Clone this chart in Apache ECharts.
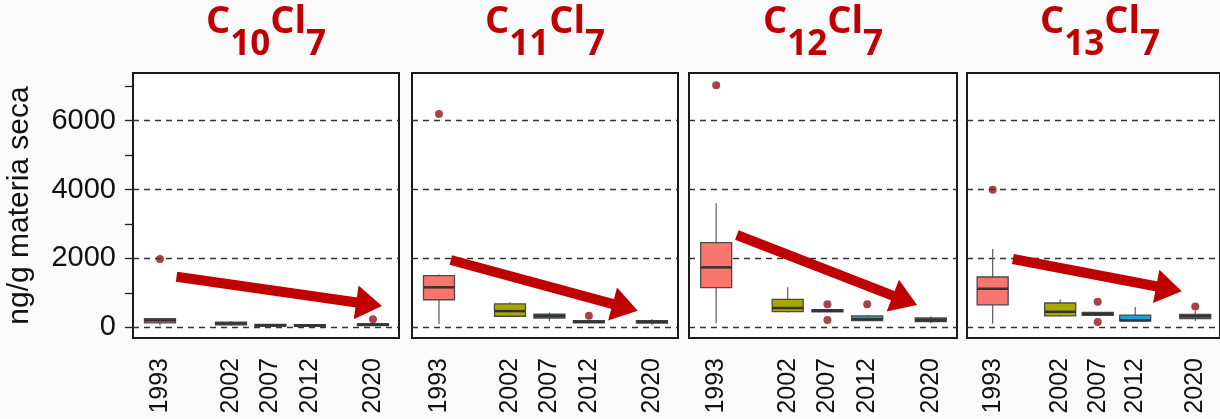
<!DOCTYPE html>
<html>
<head>
<meta charset="utf-8">
<script src="https://cdn.jsdelivr.net/npm/echarts@6/dist/echarts.min.js"></script>
<style>
  html, body { margin: 0; padding: 0; background: #fafafa; }
  #chart { width: 1220px; height: 419px; }
</style>
</head>
<body>
<div id="chart"></div>
<script>
// years sampled (x positions are real years)
const years = [1993, 2002, 2007, 2012, 2020]
const yLabelValues = [0, 2000, 4000, 6000]
const yTickValues = [0, 1000, 2000, 3000, 4000, 5000, 6000, 7000]
const chainLengths = ['10', '11', '12', '13']

// box stats per year: [min, Q1, median, Q3, max]
const c10Boxes = [
  [60, 130, 200, 250, 270],
  [40, 70, 110, 150, 180],
  [10, 30, 60, 85, 100],
  [10, 25, 50, 80, 95],
  [30, 50, 80, 100, 120]
]
const c11Boxes = [
  [90, 800, 1160, 1500, 1530],
  [290, 320, 470, 680, 730],
  [175, 270, 330, 385, 425],
  [110, 130, 160, 190, 200],
  [70, 125, 160, 190, 230]
]
const c12Boxes = [
  [120, 1150, 1740, 2460, 3600],
  [430, 455, 560, 810, 1160],
  [435, 450, 480, 510, 520],
  [190, 195, 235, 330, 360],
  [120, 165, 210, 270, 310]
]
const c13Boxes = [
  [100, 650, 1120, 1460, 2270],
  [310, 330, 450, 705, 810],
  [345, 350, 390, 430, 440],
  [175, 185, 200, 355, 590],
  [185, 250, 320, 375, 480]
]

// outliers: [year, value]
const c10Outliers = [[1993, 1980], [2020, 230]]
const c11Outliers = [[1993, 6190], [2012, 335]]
const c12Outliers = [[1993, 7030], [2007, 670], [2007, 210], [2012, 670]]
const c13Outliers = [[1993, 3990], [2007, 740], [2007, 155], [2020, 600]]

// trend arrows: [start, end] in data coords
const c10Arrow = [[1995.1, 1469], [2019.5, 670]]
const c11Arrow = [[1994.5, 1954], [2016.6, 578]]
const c12Arrow = [[1995.6, 2679], [2016.75, 781]]
const c13Arrow = [[1995.7, 1982], [2016.5, 1118]]

const allBoxes = [c10Boxes, c11Boxes, c12Boxes, c13Boxes]
const allOutliers = [c10Outliers, c11Outliers, c12Outliers, c13Outliers]
const allArrows = [c10Arrow, c11Arrow, c12Arrow, c13Arrow]

const boxColors = ['#f8766d', '#a8a800', '#2a9d7c', '#22a0d0', '#8c6c96']
const gridLefts = [133, 412, 689, 967]
const gridWidths = [266, 266, 268, 266]
const boxWidth = 31

function renderBox(params, api) {
  const x = api.value(0)
  const lo = api.coord([x, api.value(1)])
  const q1 = api.coord([x, api.value(2)])
  const med = api.coord([x, api.value(3)])
  const q3 = api.coord([x, api.value(4)])
  const hi = api.coord([x, api.value(5)])
  const half = boxWidth / 2
  const whisker = { stroke: '#666', lineWidth: 1.3 }
  return {
    type: 'group',
    children: [
      { type: 'line', shape: { x1: lo[0], y1: lo[1], x2: lo[0], y2: q1[1] }, style: whisker },
      { type: 'line', shape: { x1: hi[0], y1: hi[1], x2: hi[0], y2: q3[1] }, style: whisker },
      {
        type: 'rect',
        shape: { x: q3[0] - half, y: q3[1], width: half * 2, height: Math.max(q1[1] - q3[1], 1) },
        style: { fill: boxColors[params.dataIndex], stroke: '#4a4a4a', lineWidth: 1.3 }
      },
      {
        type: 'line',
        shape: { x1: med[0] - half, y1: med[1], x2: med[0] + half, y2: med[1] },
        style: { stroke: '#333', lineWidth: 2.5 }
      }
    ]
  }
}

const chart = echarts.init(document.getElementById('chart'))

const grids = []
const xAxes = []
const yAxes = []
const series = []
const titles = []

chainLengths.forEach((n, i) => {
  grids.push({
    left: gridLefts[i],
    top: 73,
    width: gridWidths[i],
    height: 265,
    show: true,
    backgroundColor: '#fff',
    borderColor: '#1a1a1a',
    borderWidth: 2
  })
  xAxes.push({
    type: 'value',
    gridIndex: i,
    min: 1989.58,
    max: 2023.3,
    axisLine: { show: false, onZero: false },
    axisTick: { show: false },
    splitLine: { show: false },
    axisLabel: {
      customValues: years,
      rotate: 90,
      margin: 20,
      fontSize: 25,
      fontFamily: 'Liberation Sans',
      color: '#111',
      formatter: v => String(v)
    }
  })
  yAxes.push({
    type: 'value',
    gridIndex: i,
    min: -311,
    max: 7383,
    axisLine: { show: false },
    axisTick: { show: false, customValues: yLabelValues },
    axisLabel: { show: false, customValues: yLabelValues },
    splitLine: { show: true, lineStyle: { color: '#333', type: [6, 5], width: 1.3 } }
  })
  titles.push({
    text: '{m|C}{s|' + n + '}{m|Cl}{s|7}',
    left: gridLefts[i] + gridWidths[i] / 2,
    top: 3,
    padding: 0,
    textAlign: 'center',
    textStyle: {
      rich: {
        m: { fontFamily: 'Open Sans', fontWeight: 'bold', fontSize: 38, color: '#c00000', lineHeight: 44, verticalAlign: 'top' },
        s: { fontFamily: 'Open Sans', fontWeight: 'bold', fontSize: 35, color: '#c00000', lineHeight: 60, verticalAlign: 'bottom' }
      }
    }
  })
  series.push({
    type: 'custom',
    xAxisIndex: i,
    yAxisIndex: i,
    renderItem: renderBox,
    encode: { x: 0, y: [1, 2, 3, 4, 5] },
    data: allBoxes[i].map((b, k) => [years[k]].concat(b)),
    z: 2
  })
  series.push({
    type: 'scatter',
    xAxisIndex: i,
    yAxisIndex: i,
    symbolSize: 8,
    itemStyle: { color: '#901420' },
    data: allOutliers[i],
    z: 3,
    markLine: {
      silent: true,
      symbol: ['none', 'triangle'],
      symbolSize: [34, 26],
      label: { show: false },
      lineStyle: { color: '#c00000', width: 10, type: 'solid', opacity: 1 },
      data: [[{ coord: allArrows[i][0] }, { coord: allArrows[i][1] }]],
      z: 5
    }
  })
})

// ticks, labels and name of the shared y axis (left panel)
yAxes.push({
  type: 'value',
  gridIndex: 0,
  position: 'left',
  min: -311,
  max: 7383,
  name: 'ng/g materia seca',
  nameLocation: 'middle',
  nameGap: 98,
  nameTextStyle: { fontFamily: 'Liberation Sans', fontSize: 30, color: '#111' },
  axisLine: { show: false },
  axisTick: { show: true, length: 8, customValues: yTickValues, lineStyle: { color: '#222', width: 1.3 } },
  axisLabel: {
    customValues: yLabelValues,
    margin: 17,
    fontFamily: 'Liberation Sans',
    fontSize: 29,
    color: '#111',
    formatter: v => String(v)
  },
  splitLine: { show: false }
})

chart.setOption({
  animation: false,
  backgroundColor: '#fafafa',
  title: titles,
  grid: grids,
  xAxis: xAxes,
  yAxis: yAxes,
  series: series
})
</script>
</body>
</html>
